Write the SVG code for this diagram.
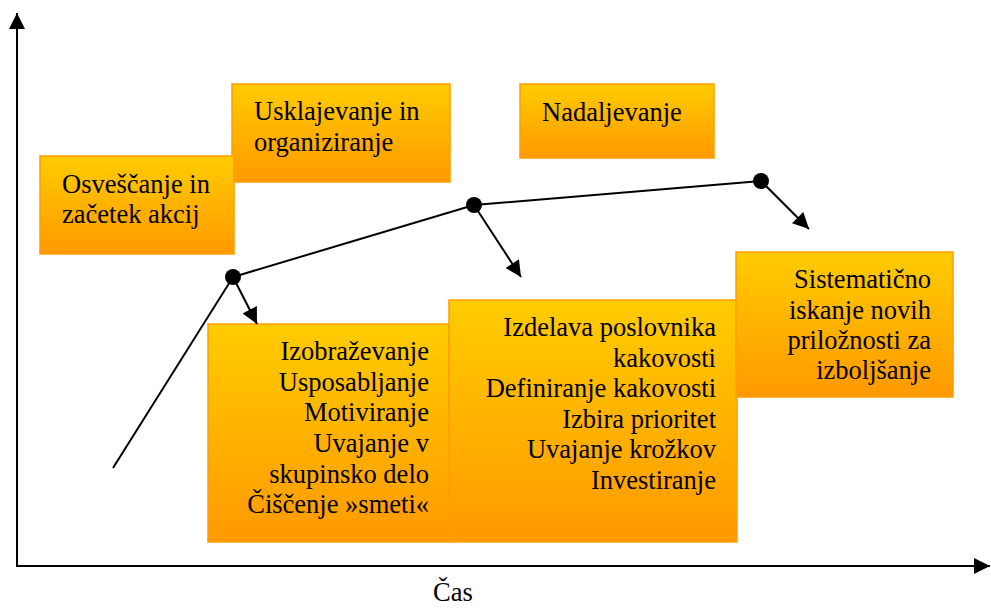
<svg xmlns="http://www.w3.org/2000/svg" width="991" height="608" viewBox="0 0 991 608">
<style>
.box{fill:url(#g);stroke:#FF9E00;stroke-width:1.5}
.t{font-family:"Liberation Serif","Times New Roman",serif;font-size:26.5px;fill:#000}
.r{text-anchor:end}
.ln{stroke:#000;stroke-width:2;fill:none}
</style>
<defs>
<linearGradient id="g" x1="0" y1="0" x2="0" y2="1">
<stop offset="0" stop-color="#FFCC00"/>
<stop offset="1" stop-color="#FF9900"/>
</linearGradient>
<marker id="ah2" viewBox="0 0 10 10" refX="10" refY="5" markerWidth="17" markerHeight="16" markerUnits="userSpaceOnUse" orient="auto">
<path d="M0,0 L10,5 L0,10 z" fill="#000"/>
</marker>
</defs>
<g id="axes">
<line class="ln" x1="17" y1="566" x2="17" y2="13" marker-end="url(#ah2)"/>
<line class="ln" x1="16" y1="566" x2="990" y2="566" marker-end="url(#ah2)"/>
<text class="t" x="433" y="601">Čas</text>
</g>
<g id="n2">
<rect class="box" x="232" y="84" width="218" height="98"/>
<text class="t" x="254" y="120">Usklajevanje in</text>
<text class="t" x="254" y="151">organiziranje</text>
</g>
<g id="n1">
<rect class="box" x="40" y="156" width="194" height="98"/>
<text class="t" x="62" y="193">Osveščanje in</text>
<text class="t" x="62" y="223">začetek akcij</text>
</g>
<g id="n3">
<rect class="box" x="520" y="84" width="194" height="74"/>
<text class="t" x="542" y="121">Nadaljevanje</text>
</g>
<g id="n6">
<rect class="box" x="208" y="324" width="241" height="218"/>
<text class="t r" x="429" y="360">Izobraževanje</text>
<text class="t r" x="429" y="391">Usposabljanje</text>
<text class="t r" x="429" y="421">Motiviranje</text>
<text class="t r" x="429" y="452">Uvajanje v</text>
<text class="t r" x="429" y="483">skupinsko delo</text>
<text class="t r" x="429" y="513">Čiščenje »smeti«</text>
</g>
<g id="n5">
<rect class="box" x="449" y="300" width="288" height="242"/>
<text class="t r" x="716" y="336">Izdelava poslovnika</text>
<text class="t r" x="716" y="367">kakovosti</text>
<text class="t r" x="716" y="397">Definiranje kakovosti</text>
<text class="t r" x="716" y="428">Izbira prioritet</text>
<text class="t r" x="716" y="458">Uvajanje krožkov</text>
<text class="t r" x="716" y="489">Investiranje</text>
</g>
<g id="n4">
<rect class="box" x="736" y="252" width="217" height="145"/>
<text class="t r" x="931" y="288">Sistematično</text>
<text class="t r" x="931" y="319">iskanje novih</text>
<text class="t r" x="931" y="349">priložnosti za</text>
<text class="t r" x="931" y="379">izboljšanje</text>
</g>
<g id="connectors">
<polyline class="ln" points="113,468 233,277 474,205 761,181"/>
<circle cx="233" cy="277" r="8" fill="#000"/>
<circle cx="474" cy="205" r="8" fill="#000"/>
<circle cx="761" cy="181" r="8" fill="#000"/>
<line class="ln" x1="233" y1="277" x2="257" y2="324" marker-end="url(#ah2)"/>
<line class="ln" x1="474" y1="205" x2="521" y2="277" marker-end="url(#ah2)"/>
<line class="ln" x1="761" y1="181" x2="809" y2="229" marker-end="url(#ah2)"/>
</g>
</svg>
